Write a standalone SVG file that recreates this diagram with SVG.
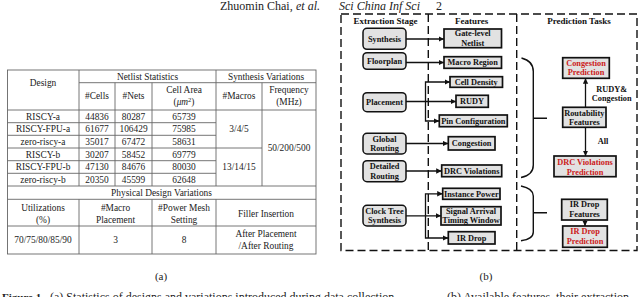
<svg xmlns="http://www.w3.org/2000/svg" width="640" height="297" viewBox="0 0 640 297">
<style>
.t{font-family:"Liberation Serif","DejaVu Serif","Times New Roman",serif;font-size:9.4px;fill:#222;text-anchor:middle}
.g{stroke:#666;stroke-width:0.9;fill:none}
.b{font-family:"Liberation Serif","DejaVu Serif","Times New Roman",serif;font-weight:bold;font-size:8.3px;fill:#111;text-anchor:middle}
.h{font-family:"Liberation Serif","DejaVu Serif","Times New Roman",serif;font-weight:bold;font-size:9px;fill:#111;text-anchor:middle}
.red{fill:#cc1a1a}
.ext{fill:#e2e2e2;stroke:#111;stroke-width:1.5}
.feat{fill:#e2e2e2;stroke:#111;stroke-width:1.7}
.dash{fill:none;stroke:#111;stroke-width:1.4;stroke-dasharray:8 4}
.c{fill:none;stroke:#111;stroke-width:1.3}
.br{fill:none;stroke:#111;stroke-width:1.4}
.cap{font-family:"Liberation Serif","DejaVu Serif","Times New Roman",serif;font-size:11px;fill:#222}
.cap2{font-family:"Liberation Serif","DejaVu Serif","Times New Roman",serif;font-size:12px;fill:#222}
</style>
<defs>
<marker id="ah" markerUnits="userSpaceOnUse" markerWidth="6" markerHeight="6" refX="5.5" refY="3" orient="auto">
<path d="M0,0.3 L5.5,3 L0,5.7 z" fill="#111"/>
</marker>
</defs>

<!-- header -->
<g id="running-head">
<text class="cap2" x="220" y="9.5">Zhuomin Chai,</text>
<text class="cap2" x="296" y="9.5" font-style="italic">et al.</text>
<text class="cap2" x="339" y="9.5" font-style="italic">Sci China Inf Sci</text>
<text class="cap2" x="436" y="9.5">2</text>
</g>

<!-- table (a) -->
<g id="table">
<rect class="g" x="7.5" y="70" width="308.5" height="184"/>
<path class="g" d="M79,82.7 H316 M7.5,110 H316 M7.5,122.7 H216 M7.5,135.3 H216 M7.5,148 H262 M7.5,160.7 H216 M7.5,173.3 H216 M7.5,186 H316 M7.5,199.3 H316 M7.5,226 H316"/>
<path class="g" d="M79,70 V186 M115,82.7 V186 M152,82.7 V186 M216,70 V186 M262,82.7 V186 M79,199.3 V254 M152,199.3 V254 M216,199.3 V254"/>
<text class="t" x="43" y="86">Design</text>
<text class="t" x="147.5" y="79.5">Netlist Statistics</text>
<text class="t" x="266" y="79.5">Synthesis Variations</text>
<text class="t" x="97" y="98.5">#Cells</text>
<text class="t" x="133.5" y="98.5">#Nets</text>
<text class="t" x="184" y="92.5">Cell Area</text>
<text class="t" x="184" y="104.5">(<tspan font-style="italic">μm</tspan><tspan font-size="6.5" dy="-3">2</tspan><tspan dy="3">)</tspan></text>
<text class="t" x="239" y="98.5">#Macros</text>
<text class="t" x="289" y="92.5">Frequency</text>
<text class="t" x="289" y="104.5">(MHz)</text>

<text class="t" x="43" y="119.6">RISCY-a</text>
<text class="t" x="97" y="119.6">44836</text>
<text class="t" x="133.5" y="119.6">80287</text>
<text class="t" x="184" y="119.6">65739</text>
<text class="t" x="43" y="132.3">RISCY-FPU-a</text>
<text class="t" x="97" y="132.3">61677</text>
<text class="t" x="133.5" y="132.3">106429</text>
<text class="t" x="184" y="132.3">75985</text>
<text class="t" x="43" y="145">zero-riscy-a</text>
<text class="t" x="97" y="145">35017</text>
<text class="t" x="133.5" y="145">67472</text>
<text class="t" x="184" y="145">58631</text>
<text class="t" x="43" y="157.6">RISCY-b</text>
<text class="t" x="97" y="157.6">30207</text>
<text class="t" x="133.5" y="157.6">58452</text>
<text class="t" x="184" y="157.6">69779</text>
<text class="t" x="43" y="170.3">RISCY-FPU-b</text>
<text class="t" x="97" y="170.3">47130</text>
<text class="t" x="133.5" y="170.3">84676</text>
<text class="t" x="184" y="170.3">80030</text>
<text class="t" x="43" y="183">zero-riscy-b</text>
<text class="t" x="97" y="183">20350</text>
<text class="t" x="133.5" y="183">45599</text>
<text class="t" x="184" y="183">62648</text>
<text class="t" x="239" y="132.3">3/4/5</text>
<text class="t" x="239" y="170.3">13/14/15</text>
<text class="t" x="289" y="151.3">50/200/500</text>

<text class="t" x="161.5" y="196">Physical Design Variations</text>
<text class="t" x="43" y="211">Utilizations</text>
<text class="t" x="43" y="223">(%)</text>
<text class="t" x="115.5" y="211">#Macro</text>
<text class="t" x="115.5" y="223">Placement</text>
<text class="t" x="184" y="211">#Power Mesh</text>
<text class="t" x="184" y="223">Setting</text>
<text class="t" x="266" y="217">Filler Insertion</text>
<text class="t" x="43" y="243">70/75/80/85/90</text>
<text class="t" x="115.5" y="243">3</text>
<text class="t" x="184" y="243">8</text>
<text class="t" x="266" y="236.5">After Placement</text>
<text class="t" x="266" y="249">/After Routing</text>
</g>

<!-- diagram (b) frame -->
<g id="stages">
<rect class="dash" x="341" y="14" width="296" height="236.5"/>
<path class="dash" d="M428.3,14 V250.5 M516.7,14 V250.5"/>
<text class="h" x="385.5" y="23.5">Extraction Stage</text>
<text class="h" x="471.7" y="23.5">Features</text>
<text class="h" x="579" y="23.5">Prediction Tasks</text>
</g>

<!-- extraction nodes -->
<g id="n-synthesis"><rect class="ext" x="363" y="28.3" width="43" height="21" rx="4"/><text class="b" x="384.5" y="41.7">Synthesis</text></g>
<g id="n-floorplan"><rect class="ext" x="363" y="52.7" width="43" height="16.6" rx="4"/><text class="b" x="384.5" y="63.9">Floorplan</text></g>
<g id="n-placement"><rect class="ext" x="363" y="92.7" width="43" height="19" rx="4"/><text class="b" x="384.5" y="105">Placement</text></g>
<g id="n-global-routing"><rect class="ext" x="363" y="133.3" width="43" height="20.7" rx="4"/><text class="b" x="384.5" y="141.6">Global</text><text class="b" x="384.5" y="151">Routing</text></g>
<g id="n-detailed-routing"><rect class="ext" x="363" y="160.7" width="43" height="21" rx="4"/><text class="b" x="384.5" y="169.3">Detailed</text><text class="b" x="384.5" y="178.7">Routing</text></g>
<g id="n-cts"><rect class="ext" x="363" y="205.3" width="43" height="20.7" rx="4"/><text class="b" x="384.5" y="213.8">Clock Tree</text><text class="b" x="384.5" y="223.2">Synthesis</text></g>

<!-- feature nodes -->
<g id="f-netlist"><rect class="feat" x="444" y="29" width="57.5" height="18.7"/><text class="b" x="472.7" y="36.4">Gate-level</text><text class="b" x="472.7" y="45.8">Netlist</text></g>
<g id="f-macro"><rect class="feat" x="444" y="56.7" width="57.5" height="11.6"/><text class="b" x="472.7" y="65.4">Macro Region</text></g>
<g id="f-celldensity"><rect class="feat" x="450" y="76.7" width="52.5" height="10.6"/><text class="b" x="476.2" y="84.9">Cell Density</text></g>
<g id="f-rudy"><rect class="feat" x="456" y="95.3" width="32.3" height="12"/><text class="b" x="472.1" y="104.2">RUDY</text></g>
<g id="f-pin"><rect class="feat" x="439.3" y="115" width="68" height="11.7"/><text class="b" x="473.3" y="123.7">Pin Configuration</text></g>
<g id="f-congestion"><rect class="feat" x="448.3" y="136.7" width="46.7" height="13.3"/><text class="b" x="471.6" y="146.2">Congestion</text></g>
<g id="f-drc"><rect class="feat" x="441.7" y="165" width="60" height="11.7"/><text class="b" x="471.7" y="173.7">DRC Violations</text></g>
<g id="f-instpower"><rect class="feat" x="442.7" y="188.3" width="57.3" height="11"/><text class="b" x="471.3" y="196.7">Instance Power</text></g>
<g id="f-timing"><rect class="feat" x="441" y="206.7" width="60" height="18.3"/><text class="b" x="471" y="214">Signal Arrival</text><text class="b" x="471" y="223.2">Timing Window</text></g>
<g id="f-irdrop"><rect class="feat" x="448.3" y="231.7" width="46.7" height="12.3"/><text class="b" x="471.6" y="240.7">IR Drop</text></g>

<!-- prediction nodes -->
<g id="p-congestion"><rect class="feat" x="562.7" y="57.7" width="46.6" height="20.6"/><text class="b red" x="586" y="65.6">Congestion</text><text class="b red" x="586" y="75.2">Prediction</text></g>
<g id="p-routability"><rect class="feat" x="562.7" y="107.3" width="43.3" height="20"/><text class="b" x="584.3" y="115.6">Routability</text><text class="b" x="584.3" y="125.2">Features</text></g>
<g id="p-drc"><rect class="feat" x="554" y="156" width="62" height="20.7"/><text class="b red" x="585" y="165.2">DRC Violations</text><text class="b red" x="585" y="174.9">Prediction</text></g>
<g id="p-irfeat"><rect class="feat" x="561.7" y="199.3" width="45.6" height="20.7"/><text class="b" x="584.5" y="207.2">IR Drop</text><text class="b" x="584.5" y="216.9">Features</text></g>
<g id="p-irpred"><rect class="feat" x="562.7" y="226" width="44.6" height="21.3"/><text class="b red" x="585" y="233.9">IR Drop</text><text class="b red" x="585" y="243.6">Prediction</text></g>

<!-- connectors -->
<g id="connectors">
<path class="c" d="M406,39 H444" marker-end="url(#ah)"/>
<path class="c" d="M406,62.5 H444" marker-end="url(#ah)"/>
<path class="c" d="M406,101.5 H456" marker-end="url(#ah)"/>
<path class="c" d="M425.5,101.5 V82 H450" marker-end="url(#ah)"/>
<path class="c" d="M425.5,101.5 V121 H439.3" marker-end="url(#ah)"/>
<path class="c" d="M406,143.5 H448.3" marker-end="url(#ah)"/>
<path class="c" d="M406,171 H441.7" marker-end="url(#ah)"/>
<path class="c" d="M406,215.8 H441" marker-end="url(#ah)"/>
<path class="c" d="M425.5,215.8 V193.8 H442.7" marker-end="url(#ah)"/>
<path class="c" d="M425.5,215.8 V238 H448.3" marker-end="url(#ah)"/>
<path class="c" d="M585.5,107.3 V78.3" marker-end="url(#ah)"/>
<path class="c" d="M585.5,127.3 V156" marker-end="url(#ah)"/>
<path class="c" d="M585,220 V226" marker-end="url(#ah)"/>
<path class="br" d="M521.5,58 Q533.3,61 533.3,71.5 V165 Q533.3,175 521,177.5 M533.3,118.3 H547"/>
<path class="br" d="M521,186 Q533.3,188.5 533.3,196 V232 Q533.3,239 521,240.7 M533.3,212.7 H547"/>
<text class="b" x="611.7" y="92">RUDY&amp;</text>
<text class="b" x="611.7" y="101.3">Congestion</text>
<text class="b" x="603" y="144">All</text>
</g>

<!-- captions -->
<g id="captions">
<text class="cap" x="161" y="280" text-anchor="middle">(a)</text>
<text class="cap" x="486" y="280" text-anchor="middle">(b)</text>
<text class="cap" x="2" y="301" font-weight="bold">Figure 1</text>
<text class="cap2" x="50" y="301">(a) Statistics of designs and variations introduced during data collection.</text>
<text class="cap2" x="447" y="301">(b) Available features, their extraction</text>
</g>
</svg>
